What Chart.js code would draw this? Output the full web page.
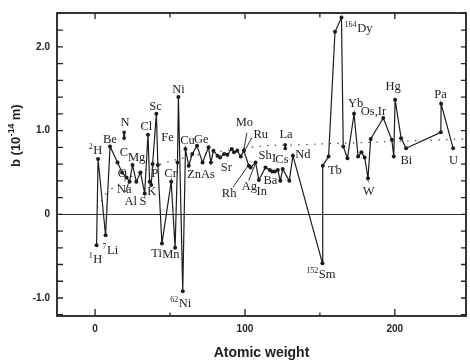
<!DOCTYPE html>
<html>
<head>
<meta charset="utf-8">
<script src="https://cdn.jsdelivr.net/npm/chart.js@4.4.1/dist/chart.umd.min.js"></script>
<style>
  html, body { margin: 0; padding: 0; background: #fff; }
  #wrap { width: 470px; height: 360px; }
</style>
</head>
<body>
<div id="wrap"><canvas id="c" width="470" height="360"></canvas></div>
<script>
// Coherent neutron scattering length b versus atomic weight, joined in order of weight
const atomicWeight = [1, 2, 7, 10, 15, 18, 21, 23, 25, 27.5, 30.3, 33.1, 35.3, 36.4, 37.5, 38.4, 40.9, 41.9, 44.6, 50.8,
  53.4, 55, 55.6, 58.5, 60.3, 62.5, 64.9, 68, 71.7, 75.7, 77.3, 79, 81.7, 83.4, 86.1, 88.3, 91.2, 92.7, 94.9, 97.2,
  99.3, 102.6, 103.8, 107.1, 109.3, 113.7, 116.6, 118.1, 119.9, 121.9, 123.6, 125.2, 129.6, 132, 151.7, 151.9, 155.8, 160.1, 164.4, 165.6,
  168.4, 172.8, 175.5, 177.7, 179.9, 182.1, 183.9, 192.3, 198, 199.3, 200.2, 204.2, 207.5, 230.7, 230.9, 238.9];
const scatteringLength = [-0.37, 0.66, -0.25, 0.81, 0.62, 0.5, 0.44, 0.39, 0.59, 0.39, 0.5, 0.25, 0.95, 0.39, 0.35, 0.6, 1.2, 0.59, -0.35, 0.39,
  -0.40, 0.62, 1.4, -0.92, 0.78, 0.58, 0.72, 0.82, 0.62, 0.8, 0.62, 0.76, 0.70, 0.68, 0.72, 0.71, 0.78, 0.74, 0.76, 0.69,
  0.76, 0.58, 0.56, 0.62, 0.41, 0.56, 0.53, 0.51, 0.51, 0.53, 0.40, 0.54, 0.40, 0.70, -0.585, 0.58, 0.69, 2.18, 2.35, 0.81,
  0.67, 1.2, 0.69, 0.74, 0.68, 0.43, 0.9, 1.15, 0.89, 0.69, 1.37, 0.91, 0.79, 0.98, 1.32, 0.79];

// Two isolated entries shown as short bars (range of values)
const nitrogenWeight = [19.4, 19.4];
const nitrogenLength = [0.98, 0.91];
const lanthanumWeight = [126.9, 126.9];
const lanthanumLength = [0.83, 0.786];

// Smooth reference trend (dotted)
const trendWeight = [1.5, 10, 44, 103, 136, 247.5];
const trendLength = [0.08, 0.29, 0.6, 0.8, 0.83, 0.9];

// Axis ranges and labelled ticks
const xRange = [-25.4, 247.5];
const yRange = [-1.215, 2.405];
const xTickLabels = { 0: '0', 100: '100', 200: '200' };
const yTickLabels = { '2': '2.0', '1': '1.0', '0': '0', '-1': '-1.0' };

// Element labels: text, optional superscript mass number, anchor (weight, b) at the text's left baseline
const elementLabels = [
  { t: 'H', sup: '2', a: -4.2, b: 0.726 },
  { t: 'H', sup: '1', a: -4.2, b: -0.58 },
  { t: 'Li', sup: '7', a: 4.9, b: -0.474 },
  { t: 'Be', a: 5.3, b: 0.855 },
  { t: 'N', a: 17.0, b: 1.055 },
  { t: 'C', a: 16.4, b: 0.702 },
  { t: 'Mg', a: 21.9, b: 0.632 },
  { t: 'O', a: 15.2, b: 0.444 },
  { t: 'Na', a: 14.6, b: 0.255 },
  { t: 'Al', a: 19.7, b: 0.114 },
  { t: 'S', a: 29.6, b: 0.114 },
  { t: 'K', a: 34.9, b: 0.232 },
  { t: 'P', a: 37.5, b: 0.444 },
  { t: 'Cl', a: 30.3, b: 1.008 },
  { t: 'Sc', a: 36.2, b: 1.244 },
  { t: 'Fe', a: 44.2, b: 0.879 },
  { t: 'Ni', a: 51.5, b: 1.455 },
  { t: 'Cr', a: 46.2, b: 0.444 },
  { t: 'Cu', a: 56.8, b: 0.844 },
  { t: 'Ge', a: 66.0, b: 0.855 },
  { t: 'Zn', a: 61.4, b: 0.432 },
  { t: 'As', a: 70.7, b: 0.432 },
  { t: 'Ti', a: 37.5, b: -0.509 },
  { t: 'Mn', a: 44.8, b: -0.521 },
  { t: 'Ni', sup: '62', a: 50.1, b: -1.109 },
  { t: 'Sr', a: 83.9, b: 0.52 },
  { t: 'Mo', a: 93.8, b: 1.055 },
  { t: 'Ru', a: 105.7, b: 0.914 },
  { t: 'La', a: 123, b: 0.914 },
  { t: 'Nd', a: 133.6, b: 0.667 },
  { t: 'Sh', a: 109.1, b: 0.655 },
  { t: 'I', a: 118, b: 0.62 },
  { t: 'Cs', a: 120.3, b: 0.608 },
  { t: 'Ba', a: 112.4, b: 0.361 },
  { t: 'In', a: 107.7, b: 0.232 },
  { t: 'Ag', a: 97.8, b: 0.291 },
  { t: 'Rh', a: 84.6, b: 0.208 },
  { t: 'Tb', a: 155.4, b: 0.479 },
  { t: 'Sm', sup: '152', a: 140.9, b: -0.756 },
  { t: 'Dy', sup: '164', a: 166.5, b: 2.173 },
  { t: 'Yb', a: 168.7, b: 1.279 },
  { t: 'Os,Ir', a: 177.3, b: 1.185 },
  { t: 'Hg', a: 193.8, b: 1.491 },
  { t: 'Pa', a: 226.3, b: 1.385 },
  { t: 'W', a: 178.6, b: 0.232 },
  { t: 'Bi', a: 203.8, b: 0.596 },
  { t: 'U', a: 236.2, b: 0.596 }
];

// Leader lines from a label to its point: [weight1, b1, weight2, b2]
const leaderLines = [
  [101.3, 0.973, 99.1, 0.758],
  [104.6, 0.914, 99.8, 0.758],
  [92.1, 0.326, 102.4, 0.588],
  [102.5, 0.405, 107.3, 0.62],
  [20.3, 0.267, 22.3, 0.373]
];

const toPoints = (xs, ys) => xs.map((v, i) => ({ x: v, y: ys[i] }));
const INK = '#1c1c1c';

const near = (v, k) => Math.abs(v - k) < 1e-6;

const decorations = {
  id: 'decorations',
  afterDatasetsDraw(chart) {
    const { ctx, scales: { x, y } } = chart;
    ctx.save();
    // leader lines
    ctx.strokeStyle = INK;
    ctx.lineWidth = 0.9;
    ctx.beginPath();
    leaderLines.forEach(l => {
      ctx.moveTo(x.getPixelForValue(l[0]), y.getPixelForValue(l[1]));
      ctx.lineTo(x.getPixelForValue(l[2]), y.getPixelForValue(l[3]));
    });
    ctx.stroke();
    // element labels
    ctx.fillStyle = '#222';
    ctx.textBaseline = 'alphabetic';
    ctx.textAlign = 'left';
    elementLabels.forEach(l => {
      let px = x.getPixelForValue(l.a);
      const py = y.getPixelForValue(l.b);
      if (l.sup) {
        ctx.font = '8px "Liberation Serif"';
        ctx.fillText(l.sup, px, py - 5);
        px += ctx.measureText(l.sup).width + 0.6;
      }
      ctx.font = '12.5px "Liberation Serif"';
      ctx.fillText(l.t, px, py);
    });
    ctx.restore();
  },
  afterDraw(chart) {
    const { ctx, chartArea: a, scales: { x, y } } = chart;
    ctx.save();
    ctx.strokeStyle = '#222';
    ctx.lineWidth = 1.8;
    ctx.strokeRect(a.left, a.top, a.right - a.left, a.bottom - a.top);
    ctx.lineWidth = 1.3;
    ctx.beginPath();
    y.ticks.forEach(t => {
      const py = y.getPixelForValue(t.value);
      ctx.moveTo(a.left, py); ctx.lineTo(a.left + 6, py);
      ctx.moveTo(a.right, py); ctx.lineTo(a.right - 5, py);
    });
    x.ticks.forEach(t => {
      const px = x.getPixelForValue(t.value);
      const major = xTickLabels[t.value] !== undefined;
      ctx.moveTo(px, a.bottom); ctx.lineTo(px, a.bottom - (major ? 7 : 3.5));
      ctx.moveTo(px, a.top); ctx.lineTo(px, a.top + (major ? 6 : 4.5));
    });
    ctx.stroke();
    // vertical axis title with superscript exponent
    ctx.translate(19.5, 167);
    ctx.rotate(-Math.PI / 2);
    ctx.fillStyle = '#222';
    ctx.textBaseline = 'alphabetic';
    ctx.textAlign = 'left';
    ctx.font = 'bold 13px "Liberation Sans"';
    ctx.fillText('b (10', 0, 0);
    let w = ctx.measureText('b (10').width;
    ctx.font = 'bold 8.5px "Liberation Sans"';
    ctx.fillText('-14', w + 0.5, -5.5);
    w += ctx.measureText('-14').width + 0.5;
    ctx.font = 'bold 13px "Liberation Sans"';
    ctx.fillText(' m)', w, 0);
    ctx.restore();
  }
};

new Chart(document.getElementById('c'), {
  type: 'scatter',
  data: {
    datasets: [
      {
        data: toPoints(trendWeight, trendLength),
        showLine: true,
        borderColor: '#333',
        borderWidth: 1.2,
        borderDash: [1.3, 6.5],
        pointRadius: 0,
        tension: 0.4
      },
      {
        data: toPoints(atomicWeight, scatteringLength),
        showLine: true,
        borderColor: INK,
        borderWidth: 1.2,
        pointRadius: 2,
        pointBorderWidth: 0,
        pointBackgroundColor: INK,
        tension: 0
      },
      {
        data: toPoints(nitrogenWeight, nitrogenLength),
        showLine: true,
        borderColor: INK,
        borderWidth: 2,
        pointRadius: 1.8,
        pointBorderWidth: 0,
        pointBackgroundColor: INK
      },
      {
        data: toPoints(lanthanumWeight, lanthanumLength),
        showLine: true,
        borderColor: INK,
        borderWidth: 1.6,
        pointRadius: 1.8,
        pointBorderWidth: 0,
        pointBackgroundColor: INK
      }
    ]
  },
  options: {
    responsive: false,
    animation: false,
    layout: { padding: { left: 0, top: 8, right: 1, bottom: 0 } },
    plugins: { legend: { display: false }, tooltip: { enabled: false } },
    scales: {
      x: {
        type: 'linear',
        min: xRange[0],
        max: xRange[1],
        afterFit(scale) { scale.height = 44; },
        border: { display: false },
        grid: { display: false, drawTicks: false },
        ticks: {
          stepSize: 50,
          includeBounds: false,
          padding: 7,
          maxRotation: 0,
          autoSkip: false,
          color: '#222',
          font: { family: '"Liberation Sans"', size: 10, weight: 'bold' },
          callback: v => (xTickLabels[v] !== undefined ? xTickLabels[v] : '')
        },
        title: {
          display: true,
          text: 'Atomic weight',
          color: '#222',
          padding: { top: 0, bottom: -2 },
          font: { family: '"Liberation Sans"', size: 14, weight: 'bold' }
        }
      },
      y: {
        type: 'linear',
        min: yRange[0],
        max: yRange[1],
        afterFit(scale) { scale.width = 57; },
        border: { display: false },
        grid: {
          drawTicks: false,
          lineWidth: 1,
          color: c => (c.tick && near(c.tick.value, 0) ? '#333' : 'rgba(0,0,0,0)')
        },
        ticks: {
          stepSize: 0.2,
          includeBounds: false,
          padding: 7,
          autoSkip: false,
          color: '#222',
          font: { family: '"Liberation Sans"', size: 10, weight: 'bold' },
          callback: v => {
            for (const k of Object.keys(yTickLabels)) { if (near(v, +k)) return yTickLabels[k]; }
            return '';
          }
        }
      }
    }
  },
  plugins: [decorations]
});
</script>
</body>
</html>
